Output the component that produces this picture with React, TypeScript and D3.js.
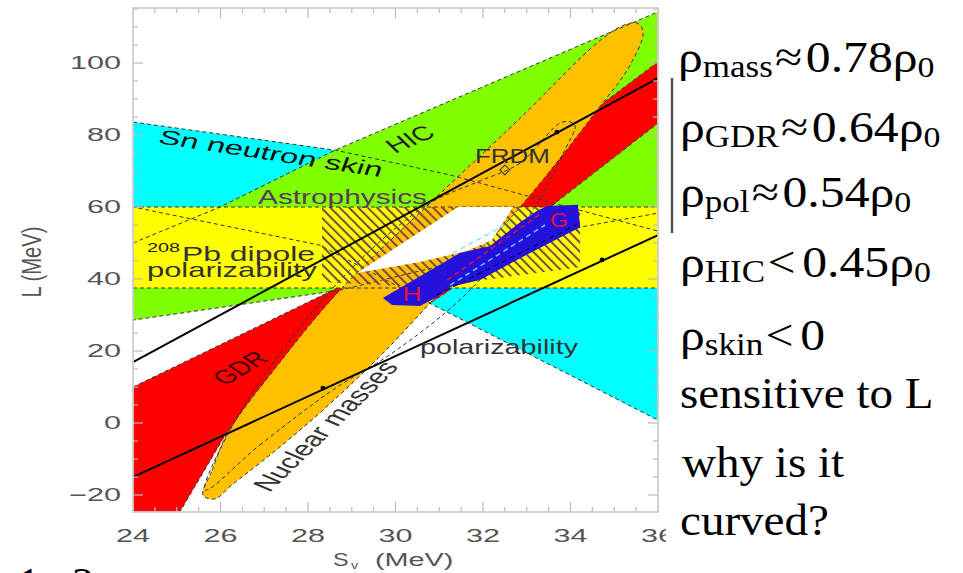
import React from "react";
import * as d3 from "d3";

type P = [number, number];

// ---------- axis tick labels ----------
const xTickLabels = [24, 26, 28, 30, 32, 34, 36];
const yTickLabels = [-20, 0, 20, 40, 60, 80, 100];

// ---------- constraint regions, [S_v (MeV), L (MeV)] ----------
const snSkinBand: P[] = [
  [24, 83.6], [28.62, 75.8], [31.25, 68.9], [33.76, 60.6], [36, 53.3],
  [36, 0.8], [30.86, 32.8], [28.27, 49.4], [24, 60],
];
const hicBand: P[] = [
  [24, 50], [25.99, 60], [28.62, 75.8], [36, 114.2],
  [36, 58.3], [34.22, 54.4], [31.5, 45], [28.73, 36.9], [24, 28.6],
];
const gdrBand: P[] = [
  [24, 10.0], [28.62, 37.2], [31.57, 60], [36, 100.3],
  [36, 83.3], [33.6, 60.6], [31.18, 36.4], [26.15, -2.5], [25.07, -24.7], [24, -24.7],
];
const dipoleBandL: [number, number] = [37.5, 60];
const massEllipse: P[] = [
  [25.6, -20.0], [25.81, -13.1], [26.15, -3.1], [27.36, 16.9], [28.73, 36.9],
  [30.79, 61.1], [32.85, 84.7], [34.61, 105.6], [35.18, 110.3], [35.52, 111.1],
  [35.66, 108.6], [35.36, 99.4], [34.61, 86.9], [32.85, 60.0], [30.86, 34.2],
  [29.65, 18.6], [28.27, 2.8], [27.13, -8.9], [26.26, -17.2], [25.87, -21.1],
];
const frdmContour: P[] = [
  [25.65, -18.6], [26.9, -6.1], [28.57, 9.2], [30.03, 20.3], [31.7, 36.9],
  [33.07, 57.8], [33.87, 75.8], [34.1, 82.8], [33.81, 83.6], [32.85, 72.2],
  [31.86, 66.9], [30.79, 61.1], [29.19, 45.3], [27.59, 23.1], [26.22, -1.9],
];
const frdmPoint: P = [32.5, 70.3];
const astroRegion: P[] = [
  [28.32, 60], [34.22, 60], [34.22, 43.3], [32.39, 40.3], [30.56, 37.8], [28.32, 39.2],
];
const consensusRegion: P[] = [
  [31.43, 60], [32.69, 60], [32.2, 50.8], [31.63, 47.8], [30.56, 44.7], [29.12, 41.7],
];
const neutronMatter: P[] = [
  [29.71, 34.7], [31.47, 47.2], [32.16, 49.2], [32.85, 55.8], [33.23, 58.9],
  [33.46, 60.3], [34.17, 60.6], [34.22, 54.4], [32.85, 45.8], [31.93, 39.7],
  [31.25, 37.8], [30.95, 35.0], [30.56, 32.5], [29.92, 32.8],
];
const nmRedDash: P[] = [[31.18, 39.7], [33.37, 58.6]];
const nmNavyDash: P[] = [[30.95, 35.6], [34.17, 55.3]];
const nmCyanDashA: P[] = [[31.31, 47.2], [32.62, 55.8]];
const nmCyanDashB: P[] = [[31.25, 38.3], [33.42, 55.0]];
const polLineUpper: P[] = [[24, 16.9], [36, 95.8]];
const polLineLower: P[] = [[24, -15.0], [36, 52.2]];
const polDots: P[] = [[33.69, 80.8], [28.34, 9.7], [34.72, 45.3]];

// ---------- right-hand text ----------
const rhoRows = [
  { sub: "mass", rel: "\u2248", val: "0.78", rho0: true },
  { sub: "GDR", rel: "\u2248", val: "0.64", rho0: true },
  { sub: "pol", rel: "\u2248", val: "0.54", rho0: true },
  { sub: "HIC", rel: "<", val: "0.45", rho0: true },
  { sub: "skin", rel: "<", val: "0", rho0: false },
];
const noteLines = ["sensitive to L", "why is it", "curved?"];

const SANS = "'Liberation Sans', Arial, Helvetica, sans-serif";
const SERIF = "'Liberation Serif', 'Times New Roman', 'DejaVu Serif', serif";

function Label(props: {
  px: number; py: number; dx: number; dy: number; text: string;
  anchor?: string; size?: number; fill?: string; central?: boolean; sx?: number;
}) {
  const { px, py, dx, dy, text, anchor = "start", size = 20, fill = "#222", central = false, sx = 1.55 } = props;
  const dxp = dx / sx;
  const ang = (Math.atan2(dy, dxp) * 180) / Math.PI;
  const len = Math.hypot(dxp, dy);
  return (
    <text
      transform={`translate(${px},${py}) scale(${sx},1) rotate(${ang})`}
      textAnchor={anchor}
      dominantBaseline={central ? "central" : undefined}
      fontSize={size}
      fill={fill}
      fontFamily={SANS}
      textLength={len}
      lengthAdjust="spacingAndGlyphs"
    >
      {text}
    </text>
  );
}

export default function App() {
  const x = d3.scaleLinear().domain([24, 36]).range([133, 658]);
  const y = d3.scaleLinear().domain([-24.72, 115.28]).range([512, 8]);
  const line = d3.line<P>().x((d) => x(d[0])).y((d) => y(d[1]));
  const poly = (pts: P[]) => (line(pts) || "") + "Z";
  const smooth = d3
    .line<P>()
    .x((d) => x(d[0]))
    .y((d) => y(d[1]))
    .curve(d3.curveCatmullRomClosed.alpha(0.5));

  const [x0, x1] = x.range();
  const [y0, y1] = [y.range()[1], y.range()[0]]; // top, bottom
  const dash = { stroke: "#333", strokeWidth: 1, strokeDasharray: "4 3", fill: "none" } as const;

  const xMinor = x.ticks(24);
  const yMinor = y.ticks(28);

  const L = (s: number, l: number) => ({ px: x(s), py: y(l) });

  return (
    <div style={{ position: "absolute", left: 0, top: 0, width: 963, height: 573, overflow: "hidden", background: "#fff" }}>
      <svg width={963} height={573} viewBox="0 0 963 573" style={{ display: "block" }}>
        <defs>
          <clipPath id="plotClip">
            <rect x={x0} y={y0} width={x1 - x0} height={y1 - y0} />
          </clipPath>
          <clipPath id="xLabClip">
            <rect x={0} y={500} width={666} height={73} />
          </clipPath>
          <pattern id="hatch" patternUnits="userSpaceOnUse" width={6.6} height={6.6} patternTransform="rotate(-45)">
            <line x1={1} y1={0} x2={1} y2={6.6} stroke="#7a4b3e" strokeWidth={2} />
          </pattern>
        </defs>
        <rect x={0} y={0} width={963} height={573} fill="#fff" />

        <g clipPath="url(#plotClip)">
          {/* bands */}
          <path d={poly(snSkinBand)} fill="#00ffff" />
          <path d={poly(hicBand)} fill="#80ff00" />
          <path d={poly(gdrBand)} fill="#ff0000" />
          <path d={poly(gdrBand)} {...dash} />
          <rect x={x0} width={x1 - x0} y={y(dipoleBandL[1])} height={y(dipoleBandL[0]) - y(dipoleBandL[1])} fill="#ffff00" />
          <path d={smooth(massEllipse) || ""} fill="#ffc000" />
          <path d={smooth(massEllipse) || ""} {...dash} />
          <path d={smooth(frdmContour) || ""} {...dash} />
          <path d={poly(snSkinBand)} {...dash} />
          <path d={poly(hicBand)} {...dash} />
          <line x1={x0} x2={x1} y1={y(dipoleBandL[1])} y2={y(dipoleBandL[1])} {...dash} />
          <line x1={x0} x2={x1} y1={y(dipoleBandL[0])} y2={y(dipoleBandL[0])} {...dash} />
          <rect
            x={x(frdmPoint[0]) - 3.5}
            y={y(frdmPoint[1]) - 3.5}
            width={7}
            height={7}
            fill="none"
            stroke="#444"
            strokeWidth={1.2}
            transform={`rotate(45 ${x(frdmPoint[0])} ${y(frdmPoint[1])})`}
          />

          {/* astrophysics hatch, consensus region, neutron matter */}
          <path d={poly(astroRegion)} fill="url(#hatch)" />
          <path d={poly(consensusRegion)} fill="#ffffff" />
          <path d={poly(neutronMatter)} fill="#2412dc" />
          <path d={line(nmCyanDashA) || ""} stroke="#7fe8ff" strokeWidth={1.5} strokeDasharray="5 4" fill="none" />
          <path d={line(nmCyanDashB) || ""} stroke="#5cc8ff" strokeWidth={1.5} strokeDasharray="5 4" fill="none" />
          <path d={line(nmNavyDash) || ""} stroke="#0a0a60" strokeWidth={1.3} strokeDasharray="5 4" fill="none" />
          <path d={line(nmRedDash) || ""} stroke="#e0103c" strokeWidth={1.5} strokeDasharray="5 4" fill="none" />

          {/* polarizability lines */}
          <path d={line(polLineUpper) || ""} stroke="#000" strokeWidth={2} fill="none" />
          <path d={line(polLineLower) || ""} stroke="#000" strokeWidth={2} fill="none" />
          {polDots.map((d, i) => (
            <circle key={i} cx={x(d[0])} cy={y(d[1])} r={2.4} fill="#000" />
          ))}

          {/* labels */}
          <Label {...L(24.549, 77.78)} dx={223} dy={34} text="Sn neutron skin" fill="#111" />
          <Label {...L(30.331, 78.89)} dx={42} dy={-18} text="HIC" anchor="middle" central fill="#222" />
          <Label {...L(26.857, 60.83)} dx={169} dy={0} text="Astrophysics" fill="#5a3a5a" />
          <Label {...L(31.817, 72.22)} dx={75} dy={0} text="FRDM" fill="#333" />
          <Label {...L(24.32, 47.5)} dx={33} dy={0} size={13} text="208" fill="#222" />
          <Label {...L(25.12, 45.0)} dx={133} dy={0} text="Pb dipole" fill="#333" />
          <Label {...L(24.32, 40.56)} dx={170} dy={0} text="polarizability" fill="#333" />
          <Label {...L(30.56, 19.17)} dx={158} dy={0} text="polarizability" fill="#333" />
          <Label {...L(26.446, 15.28)} dx={45} dy={-26} text="GDR" anchor="middle" central fill="#3a0000" />
          <Label {...L(28.4, -0.9)} dx={130} dy={-126} text="Nuclear masses" anchor="middle" central fill="#333" />
          <Label {...L(30.377, 35.83)} dx={19} dy={0} size={21} text="H" anchor="middle" central fill="#e0103c" />
          <Label {...L(33.737, 56.39)} dx={18} dy={0} size={21} text="G" anchor="middle" central fill="#e0103c" />
        </g>

        {/* frame and ticks */}
        <g stroke="#b8b8b8" strokeWidth={1.2}>
          {xMinor.map((t, i) => {
            const major = xTickLabels.includes(t);
            const len = major ? 10 : 5;
            return (
              <g key={"xt" + i}>
                <line x1={x(t)} x2={x(t)} y1={y1} y2={y1 - len} />
                <line x1={x(t)} x2={x(t)} y1={y0} y2={y0 + len} />
              </g>
            );
          })}
          {yMinor.map((t, i) => {
            const major = yTickLabels.includes(t);
            const len = major ? 10 : 5;
            return (
              <g key={"yt" + i}>
                <line x1={x0} x2={x0 + len} y1={y(t)} y2={y(t)} />
                <line x1={x1} x2={x1 - len} y1={y(t)} y2={y(t)} />
              </g>
            );
          })}
        </g>
        <rect x={x0} y={y0} width={x1 - x0} height={y1 - y0} fill="none" stroke="#cfcfcf" strokeWidth={1.8} />

        {/* tick labels */}
        <g fontFamily={SANS} fontSize={18} fill="#555" clipPath="url(#xLabClip)">
          {xTickLabels.map((t) => (
            <text key={"xl" + t} transform={`translate(${x(t)},542) scale(1.7,1)`} textAnchor="middle">
              {String(t)}
            </text>
          ))}
        </g>
        <g fontFamily={SANS} fontSize={18} fill="#555">
          {yTickLabels.map((t) => (
            <text key={"yl" + t} transform={`translate(121,${y(t)}) scale(1.7,1)`} textAnchor="end" dominantBaseline="central">
              {t < 0 ? "\u2212" + Math.abs(t) : String(t)}
            </text>
          ))}
        </g>

        {/* axis titles */}
        <text
          transform="translate(31,262) scale(1.6,1) rotate(-90)"
          textAnchor="middle"
          dominantBaseline="central"
          fontFamily={SANS}
          fontSize={17}
          fill="#555"
          textLength={71}
          lengthAdjust="spacingAndGlyphs"
        >
          L (MeV)
        </text>
        <g fontFamily={SANS} fill="#555">
          <text transform="translate(333,566) scale(1.3,1)" fontSize={18}>S</text>
          <text transform="translate(351,569) scale(1.3,1)" fontSize={11}>v</text>
          <text transform="translate(375,566) scale(1.6,1)" fontSize={18} textLength={49} lengthAdjust="spacingAndGlyphs">
            (MeV)
          </text>
        </g>

        {/* right-hand annotations */}
        <line x1={672} x2={672} y1={78} y2={233} stroke="#555" strokeWidth={2.5} />
        <g fontFamily={SERIF} fill="#000">
          {rhoRows.map((r, i) => {
            const base = [72, 142, 207, 277, 350][i];
            const left = i === 0 ? 678 : 680;
            return (
              <text key={"rho" + i} transform={`translate(${left},${base}) scale(1.13,1)`} fontSize={44} fontFamily={SERIF}>
                <tspan fontFamily={SERIF}>{"\u03c1"}</tspan>
                <tspan fontFamily={SERIF} fontSize={31} dy={5}>{r.sub}</tspan>
                <tspan fontFamily={SERIF} fontSize={44} dy={-5} dx={2}>{r.rel}</tspan>
                <tspan fontFamily={SERIF} fontSize={44} dx={r.rel === "<" ? 6 : 3}>{r.val}</tspan>
                {r.rho0 ? <tspan fontFamily={SERIF}>{"\u03c1"}</tspan> : null}
                {r.rho0 ? <tspan fontFamily={SERIF} fontSize={30} dy={5}>0</tspan> : null}
              </text>
            );
          })}
          {noteLines.map((t, i) => (
            <text key={"n" + i} transform={`translate(${i === 1 ? 682 : 680},${[408, 477, 535][i]}) scale(1.07,1)`} fontSize={44}>
              {t}
            </text>
          ))}
          <text x={18} y={598} fontSize={44}>1</text>
          <text x={72} y={598} fontSize={44}>2</text>
        </g>
      </svg>
    </div>
  );
}
